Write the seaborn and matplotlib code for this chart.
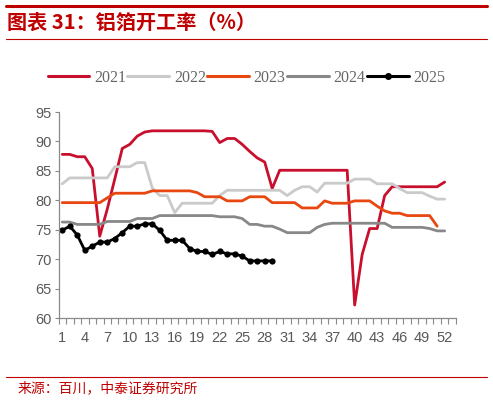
import matplotlib
matplotlib.use("Agg")
import matplotlib.pyplot as plt
import numpy as np
import pandas as pd
import seaborn as sns
from matplotlib.lines import Line2D
from matplotlib.ticker import FixedLocator

# weekly aluminium-foil operating rate (%)
y2021 = [87.8, 87.8, 87.4, 87.4, 85.4, 73.9, 78.5, 83.6, 88.8, 89.5,
         90.9, 91.6, 91.8, 91.8, 91.8, 91.8, 91.8, 91.8, 91.8, 91.8,
         91.7, 89.8, 90.5, 90.5, 89.5, 88.3, 87.2, 86.5, 82.0, 85.1,
         85.1, 85.1, 85.1, 85.1, 85.1, 85.1, 85.1, 85.1, 85.1, 62.2,
         70.8, 75.2, 75.2, 80.8, 82.3, 82.3, 82.3, 82.3, 82.3, 82.3,
         82.3, 83.1]
y2022 = [82.8, 83.8, 83.8, 83.8, 83.8, 83.8, 83.8, 85.7, 85.7, 85.7,
         86.4, 86.4, 82.1, 80.8, 80.8, 77.9, 79.5, 79.5, 79.5, 79.5,
         79.5, 80.8, 81.7, 81.7, 81.7, 81.7, 81.7, 81.7, 81.7, 81.7,
         80.8, 81.7, 82.3, 82.3, 81.4, 82.9, 82.9, 82.9, 82.9, 83.6,
         83.6, 83.6, 82.8, 82.8, 82.8, 82.0, 81.3, 81.3, 81.3, 80.7,
         80.2, 80.2]
y2023 = [79.6, 79.6, 79.6, 79.6, 79.6, 79.6, 80.4, 81.2, 81.2, 81.2,
         81.2, 81.2, 81.6, 81.6, 81.6, 81.6, 81.6, 81.6, 81.3, 80.6,
         80.6, 80.6, 79.9, 79.9, 79.9, 80.6, 80.6, 80.6, 79.6, 79.6,
         79.6, 79.6, 78.7, 78.7, 78.7, 79.9, 79.5, 79.5, 79.5, 79.9,
         79.9, 79.9, 79.0, 78.2, 77.8, 77.8, 77.4, 77.4, 77.4, 77.4,
         75.6]
y2024 = [76.3, 76.3, 75.9, 75.9, 75.9, 75.9, 76.4, 76.4, 76.4, 76.4,
         76.9, 76.9, 76.9, 77.4, 77.4, 77.4, 77.4, 77.4, 77.4, 77.4,
         77.4, 77.2, 77.2, 77.2, 76.9, 75.9, 75.9, 75.6, 75.6, 75.1,
         74.5, 74.5, 74.5, 74.5, 75.4, 75.9, 76.1, 76.1, 76.1, 76.1,
         76.1, 76.1, 76.1, 76.1, 75.4, 75.4, 75.4, 75.4, 75.4, 75.2,
         74.8, 74.8]
y2025 = [74.9, 75.6, 74.1, 71.5, 72.2, 72.9, 72.9, 73.5, 74.5, 75.6,
         75.6, 76.0, 76.0, 74.9, 73.2, 73.2, 73.2, 71.8, 71.3, 71.3,
         70.8, 71.3, 70.9, 70.9, 70.5, 69.7, 69.7, 69.7, 69.7]

years = ["2021", "2022", "2023", "2024", "2025"]
series = [y2021, y2022, y2023, y2024, y2025]
colors = ["#C8102E", "#CACACA", "#E8470F", "#888888", "#000000"]

frames = []
for yr, vals in zip(years, series):
    frames.append(pd.DataFrame({"week": np.arange(1, len(vals) + 1),
                                "rate": vals, "year": yr}))
df = pd.concat(frames, ignore_index=True)

sns.set_theme(style="white")
plt.rcParams["font.family"] = ["Liberation Sans", "Noto Sans CJK SC", "DejaVu Sans"]

fig = plt.figure(figsize=(4.93, 4.0), dpi=100)
ax = fig.add_axes([0.1187, 0.205, 0.806, 0.515])

for yr, col in zip(years, colors):
    sub = df[df["year"] == yr]
    if yr == "2025":
        sns.lineplot(data=sub, x="week", y="rate", ax=ax, color=col,
                     linewidth=2.0, marker="o", markersize=4.5,
                     markeredgewidth=0, legend=False)
    else:
        sns.lineplot(data=sub, x="week", y="rate", ax=ax, color=col,
                     linewidth=2.0, legend=False)

ax.set_xlim(0.5, 53.5)
ax.set_ylim(60, 95)
ax.set_yticks(np.arange(60, 96, 5))
ax.set_xticks(np.arange(1, 53, 3))
ax.xaxis.set_minor_locator(FixedLocator(np.arange(0.5, 54, 1)))
ax.tick_params(axis="x", which="major", length=0, labelsize=10.5,
               labelcolor="#595959", pad=9)
ax.tick_params(axis="x", which="minor", length=4, width=0.8,
               color="#898989", direction="out", bottom=True)
ax.tick_params(axis="y", length=3, width=0.8, color="#898989",
               labelsize=10.5, labelcolor="#595959", left=True, pad=2)
ax.set_xlabel("")
ax.set_ylabel("")
for s in ["top", "right"]:
    ax.spines[s].set_visible(False)
for s in ["left", "bottom"]:
    ax.spines[s].set_color("#898989")
    ax.spines[s].set_linewidth(0.9)

handles = [Line2D([], [], color=c, linewidth=2.2,
                  marker="o" if y == "2025" else None, markersize=4)
           for y, c in zip(years, colors)]
fig.legend(handles, years, loc="center", bbox_to_anchor=(0.5, 0.805),
           ncol=5, frameon=False, handlelength=2.6, handletextpad=0.3,
           columnspacing=0.1,
           prop={"family": "Liberation Serif", "size": 11.5},
           labelcolor="#666666")

# header / footer decoration
fig.add_artist(Line2D([0.012, 0.988], [0.985, 0.985], color="#C00000",
                      linewidth=2.2, transform=fig.transFigure))
fig.add_artist(Line2D([0.012, 0.988], [0.902, 0.902], color="#C00000",
                      linewidth=0.8, transform=fig.transFigure))
fig.add_artist(Line2D([0.012, 0.988], [0.058, 0.058], color="#C00000",
                      linewidth=0.8, transform=fig.transFigure))
fig.text(0.014, 0.944, "图表 31：铝箔开工率（%）", color="#C00000",
         fontsize=14.5, fontweight="bold", va="center", ha="left",
         family=["Noto Sans CJK SC", "DejaVu Sans"])
fig.text(0.036, 0.03, "来源：百川，中泰证券研究所", color="#C00000",
         fontsize=10, va="center", ha="left",
         family=["Noto Sans CJK SC", "DejaVu Sans"])

fig.savefig("out.png", dpi=100)
